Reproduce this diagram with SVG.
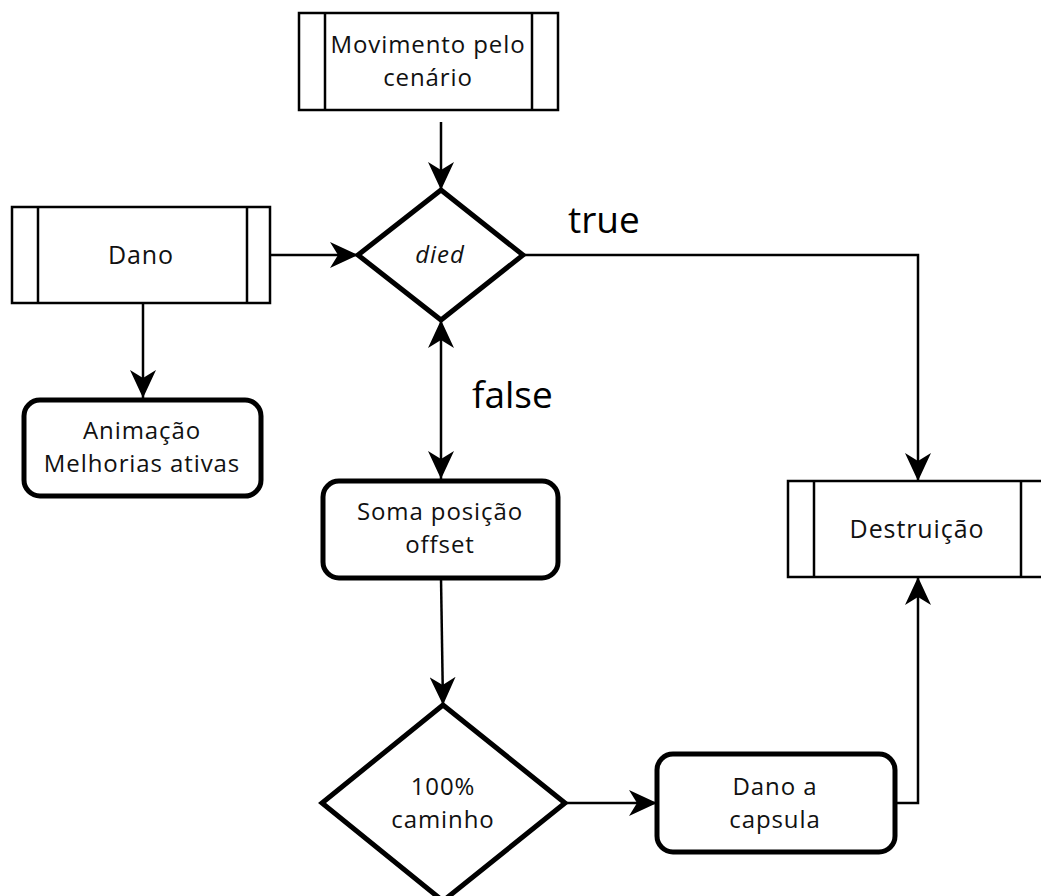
<svg xmlns="http://www.w3.org/2000/svg" width="1041" height="896" viewBox="0 0 1041 896">
<style>
  .proc { fill: #fff; stroke: #000; stroke-width: 2.5; }
  .bar { stroke: #000; stroke-width: 2.5; fill: none; }
  .thick { fill: #fff; stroke: #000; stroke-width: 5; }
  .lbl { font-family: "Open Sans", "Noto Sans", sans-serif; font-size: 24px; letter-spacing: 0.9px; fill: #111; text-anchor: middle; }
  .big { font-family: "Open Sans", "Noto Sans", sans-serif; font-size: 37px; fill: #000; }
  .edge { fill: none; stroke: #000; stroke-width: 2.5; }
</style>
<defs>
  <marker id="arr" markerUnits="userSpaceOnUse" viewBox="0 0 28 26" refX="28" refY="13" markerWidth="28" markerHeight="26" orient="auto-start-reverse">
    <path d="M0,0 L28,13 L0,26 L8,13 Z" fill="#000"/>
  </marker>
</defs>
<rect width="1041" height="896" fill="#fff"/>

<g id="connectors">
  <path class="edge" d="M441,122 L441,190" marker-end="url(#arr)"/>
  <path class="edge" d="M270,255 L358,255" marker-end="url(#arr)"/>
  <path class="edge" d="M143,303 L143,398" marker-end="url(#arr)"/>
  <path class="edge" d="M441,320 L441,479" marker-start="url(#arr)" marker-end="url(#arr)"/>
  <path class="edge" d="M523,255 L918,255 L918,481" marker-end="url(#arr)"/>
  <path class="edge" d="M441,578 L443,705" marker-end="url(#arr)"/>
  <path class="edge" d="M565,803 L657,803" marker-end="url(#arr)"/>
  <path class="edge" d="M895,803 L918,803 L918,577" marker-end="url(#arr)"/>
</g>

<g id="movimento">
  <rect class="proc" x="299" y="13" width="259" height="97"/>
  <line class="bar" x1="325" y1="13" x2="325" y2="110"/>
  <line class="bar" x1="532" y1="13" x2="532" y2="110"/>
  <text class="lbl" x="428" y="53">Movimento pelo</text>
  <text class="lbl" x="428" y="86">cenário</text>
</g>

<g id="dano">
  <rect class="proc" x="12" y="207" width="258" height="96"/>
  <line class="bar" x1="38" y1="207" x2="38" y2="303"/>
  <line class="bar" x1="247" y1="207" x2="247" y2="303"/>
  <text class="lbl" x="141" y="264" style="font-size:25px">Dano</text>
</g>

<g id="animacao">
  <rect class="thick" x="24" y="400" width="237" height="96" rx="16" ry="16"/>
  <text class="lbl" x="142" y="439">Animação</text>
  <text class="lbl" x="142" y="472">Melhorias ativas</text>
</g>

<g id="died">
  <polygon class="thick" points="441,190 523,255 441,320 358,255"/>
  <text class="lbl" x="440" y="263" font-style="italic">died</text>
</g>

<g id="soma">
  <rect class="thick" x="323" y="481" width="235" height="97" rx="16" ry="16"/>
  <text class="lbl" x="440" y="520">Soma posição</text>
  <text class="lbl" x="440" y="553">offset</text>
</g>

<g id="caminho">
  <polygon class="thick" points="443,705 565,803 443,901 322,803"/>
  <text class="lbl" x="443" y="795">100%</text>
  <text class="lbl" x="443" y="828">caminho</text>
</g>

<g id="capsula">
  <rect class="thick" x="657" y="754" width="238" height="98" rx="16" ry="16"/>
  <text class="lbl" x="775" y="795">Dano a</text>
  <text class="lbl" x="775" y="828">capsula</text>
</g>

<g id="destruicao">
  <rect class="proc" x="788" y="481" width="260" height="96"/>
  <line class="bar" x1="814" y1="481" x2="814" y2="577"/>
  <line class="bar" x1="1021" y1="481" x2="1021" y2="577"/>
  <text class="lbl" x="917" y="538" style="font-size:25px">Destruição</text>
</g>

<g id="labels">
  <text class="big" x="568" y="233">true</text>
  <text class="big" x="472" y="408">false</text>
</g>
</svg>
